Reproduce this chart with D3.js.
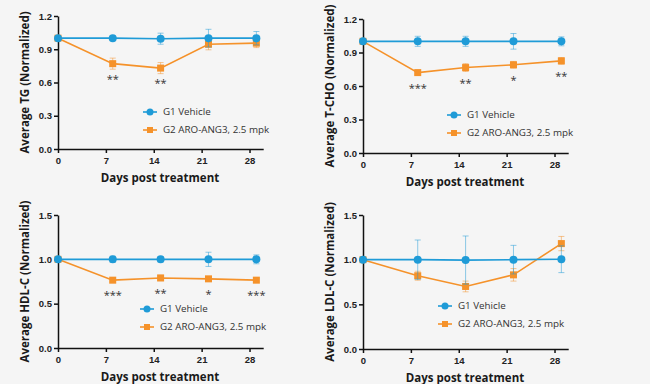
<!DOCTYPE html>
<html>
<head>
<meta charset="utf-8">
<script src="https://cdn.jsdelivr.net/npm/d3@7"></script>
<style>
  html, body { margin: 0; padding: 0; background: #f5f5f5; }
  svg { display: block; font-family: "Open Sans", "Noto Sans", sans-serif; }
  .axis path, .axis line { stroke: #111; stroke-width: 1.5px; }
  .axis text { font-size: 9.5px; font-weight: 700; fill: #222; }
  .title { font-size: 11.5px; font-weight: 700; fill: #1a1a1a; }
  .legend text { font-size: 9.8px; fill: #333; }
  .star { font-size: 11px; fill: #333; }
</style>
</head>
<body>
<svg id="chart" width="650" height="384"></svg>
<script>
// data
var days = [0, 8, 15, 22, 29];
var dayTicks = [0, 7, 14, 21, 28];
var seriesNames = ['G1 Vehicle', 'G2 ARO-ANG3, 2.5 mpk'];

var tgVehicle = [1.0, 1.0, 0.995, 1.0, 1.0];
var tgVehicleErr = [0, 0.02, 0.05, 0.08, 0.06];
var tgAng3 = [1.0, 0.77, 0.73, 0.945, 0.955];
var tgAng3Err = [0, 0.05, 0.05, 0.05, 0.04];
var tgStars = ['', '**', '**', '', ''];

var tchoVehicle = [1.0, 1.0, 1.0, 1.0, 1.0];
var tchoVehicleErr = [0, 0.045, 0.045, 0.07, 0.04];
var tchoAng3 = [1.0, 0.72, 0.765, 0.79, 0.825];
var tchoAng3Err = [0, 0.015, 0.035, 0.03, 0.03];
var tchoStars = ['', '***', '**', '*', '**'];

var hdlVehicle = [1.0, 1.0, 1.0, 1.0, 1.0];
var hdlVehicleErr = [0, 0.035, 0.03, 0.08, 0.05];
var hdlAng3 = [1.0, 0.765, 0.79, 0.78, 0.765];
var hdlAng3Err = [0, 0.02, 0.03, 0.02, 0.02];
var hdlStars = ['', '***', '**', '*', '***'];

var ldlVehicle = [1.0, 1.0, 0.995, 1.0, 1.005];
var ldlVehicleErr = [0, 0.22, 0.27, 0.16, 0.15];
var ldlAng3 = [1.0, 0.82, 0.70, 0.83, 1.18];
var ldlAng3Err = [0, 0.05, 0.06, 0.07, 0.08];
var ldlStars = ['', '', '', '', ''];

var smallTicks = [0, 0.3, 0.6, 0.9, 1.2];
var bigTicks = [0, 0.5, 1.0, 1.5];

var blue = '#1f9bd7';
var orange = '#f5922a';

var panels = [
    { label: 'Average TG (Normalized)', veh: tgVehicle, vehErr: tgVehicleErr, trt: tgAng3, trtErr: tgAng3Err,
      stars: tgStars, ticks: smallTicks, yMax: 1.2, x0: 58, yTop: 16, yBot: 149, labelX: 25, legX: 143, legY: 112 },
    { label: 'Average T-CHO (Normalized)', veh: tchoVehicle, vehErr: tchoVehicleErr, trt: tchoAng3, trtErr: tchoAng3Err,
      stars: tchoStars, ticks: smallTicks, yMax: 1.2, x0: 363, yTop: 19, yBot: 153, labelX: 330, legX: 447, legY: 115 },
    { label: 'Average HDL-C (Normalized)', veh: hdlVehicle, vehErr: hdlVehicleErr, trt: hdlAng3, trtErr: hdlAng3Err,
      stars: hdlStars, ticks: bigTicks, yMax: 1.5, x0: 58, yTop: 215, yBot: 348, labelX: 25, legX: 140, legY: 309 },
    { label: 'Average LDL-C (Normalized)', veh: ldlVehicle, vehErr: ldlVehicleErr, trt: ldlAng3, trtErr: ldlAng3Err,
      stars: ldlStars, ticks: bigTicks, yMax: 1.5, x0: 363, yTop: 215, yBot: 349, labelX: 330, legX: 438, legY: 306 }
];

var svg = d3.select('#chart');

function drawSeries(g, x, y, vals, errs, color, shape) {
    var pts = days.map(function(d, i) { return { d: d, v: vals[i], e: errs[i] }; });
    var eb = g.append('g').attr('stroke', color).attr('stroke-opacity', 0.5).attr('stroke-width', 1);
    pts.filter(function(p) { return p.e > 0; }).forEach(function(p) {
        var cx = x(p.d);
        eb.append('line').attr('x1', cx).attr('x2', cx).attr('y1', y(p.v + p.e)).attr('y2', y(p.v - p.e));
        eb.append('line').attr('x1', cx - 3).attr('x2', cx + 3).attr('y1', y(p.v + p.e)).attr('y2', y(p.v + p.e));
        eb.append('line').attr('x1', cx - 3).attr('x2', cx + 3).attr('y1', y(p.v - p.e)).attr('y2', y(p.v - p.e));
    });
    g.append('path').datum(pts)
        .attr('fill', 'none').attr('stroke', color).attr('stroke-width', 1.6)
        .attr('d', d3.line().x(function(p) { return x(p.d); }).y(function(p) { return y(p.v); }));
    pts.forEach(function(p) {
        if (shape === 'circle') {
            g.append('circle').attr('cx', x(p.d)).attr('cy', y(p.v)).attr('r', 4).attr('fill', color);
        } else {
            g.append('rect').attr('x', x(p.d) - 3.5).attr('y', y(p.v) - 3.5).attr('width', 7).attr('height', 7).attr('fill', color);
        }
    });
}

panels.forEach(function(p) {
    var g = svg.append('g');
    var x = d3.scaleLinear().domain([0, 30]).range([p.x0, p.x0 + 30 * 6.84]);
    var y = d3.scaleLinear().domain([0, p.yMax]).range([p.yBot, p.yTop]);

    g.append('g').attr('class', 'axis').attr('transform', 'translate(0,' + p.yBot + ')')
        .call(d3.axisBottom(x).tickValues(dayTicks).tickSize(4).tickSizeOuter(0).tickPadding(4));
    g.append('g').attr('class', 'axis').attr('transform', 'translate(' + p.x0 + ',0)')
        .call(d3.axisLeft(y).tickValues(p.ticks).tickSize(4).tickSizeOuter(0).tickPadding(2)
            .tickFormat(d3.format('.1f')));

    g.append('text').attr('class', 'title')
        .attr('transform', 'translate(' + p.labelX + ',' + (p.yTop + p.yBot) / 2 + ') rotate(-90)')
        .attr('text-anchor', 'middle').attr('dy', '0.35em').text(p.label);
    g.append('text').attr('class', 'title')
        .attr('x', p.x0 + 102).attr('y', p.yBot + 29).attr('dy', '0.35em')
        .attr('text-anchor', 'middle').text('Days post treatment');

    drawSeries(g, x, y, p.trt, p.trtErr, orange, 'square');
    drawSeries(g, x, y, p.veh, p.vehErr, blue, 'circle');

    // significance marks under the treated series
    g.selectAll('.star').data(p.stars).enter().append('text')
        .attr('class', 'star').attr('text-anchor', 'middle')
        .attr('x', function(s, i) { return x(days[i]); })
        .attr('y', function(s, i) { return y(p.trt[i]) + 19; })
        .text(function(s) { return s; });

    // legend
    var leg = g.append('g').attr('class', 'legend');
    [blue, orange].forEach(function(c, i) {
        var ly = p.legY + i * 18;
        leg.append('line').attr('x1', p.legX).attr('x2', p.legX + 14).attr('y1', ly).attr('y2', ly)
            .attr('stroke', c).attr('stroke-width', 1.6);
        if (i === 0) {
            leg.append('circle').attr('cx', p.legX + 7).attr('cy', ly).attr('r', 3.5).attr('fill', c);
        } else {
            leg.append('rect').attr('x', p.legX + 4).attr('y', ly - 3).attr('width', 6).attr('height', 6).attr('fill', c);
        }
        leg.append('text').attr('x', p.legX + 20).attr('y', ly).attr('dy', '0.35em').text(seriesNames[i]);
    });
});
</script>
</body>
</html>
